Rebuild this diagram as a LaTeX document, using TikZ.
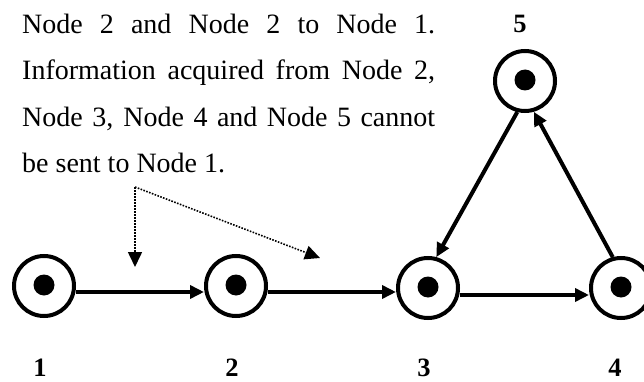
\documentclass[tikz,border=0pt]{standalone}
\usepackage{fontspec}
\setmainfont{Liberation Serif}
\usetikzlibrary{arrows.meta}
\begin{document}
\begin{tikzpicture}[x=1pt,y=-1pt,
  vertex/.style={circle,draw,line width=4pt,minimum size=60pt,inner sep=0pt},
  dotmark/.style={fill=black},
  edge/.style={line width=4pt,-{Triangle[length=14pt,width=13pt]}},
  hint/.style={line width=1.6pt,dash pattern=on 1.6pt off 1.4pt,-{Triangle[length=15pt,width=14pt]}},
  numlabel/.style={anchor=base,inner sep=0pt,font=\fontsize{26.5}{26.5}\selectfont\bfseries}]
\useasboundingbox (0,0) rectangle (644,382);
% text
\node[anchor=base west,inner sep=0pt,text width=413pt,align=justify,
  font=\fontsize{28}{46.5}\selectfont] (txt) at (22,33.5)
  {\hyphenpenalty=10000 Node 2 and Node 2 to Node 1.\linebreak Information acquired from Node 2,\linebreak Node 3, Node 4 and Node 5 cannot\linebreak be sent to Node 1.};
% vertices
\node[vertex] (n1) at (44,286) {};
\node[vertex] (n2) at (236,286) {};
\node[vertex] (n3) at (428,288) {};
\node[vertex] (n4) at (621,288) {};
\node[vertex] (n5) at (525,81) {};
\foreach \n in {n1,n2,n3,n4,n5} \fill[dotmark] (\n.center) ++(0,-1) circle[radius=10.5pt];
% labels
\node[numlabel] (l1) at (40,376) {1};
\node[numlabel] (l2) at (232,376) {2};
\node[numlabel] (l3) at (424,376) {3};
\node[numlabel] (l4) at (615,376) {4};
\node[numlabel] (l5) at (520,33) {5};
% edges
\draw[edge] ([yshift=-6pt]n1.east) -- ([yshift=-6pt]n2.west);
\draw[edge] ([yshift=-6pt]n2.east) -- ([yshift=-4pt]n3.west);
\draw[edge] ([yshift=-7pt]n3.east) -- ([yshift=-7pt]n4.west);
\draw[edge] (n5.-104) -- (n3.75);
\draw[edge] (n4.105) -- (n5.-74);
% dotted hints
\coordinate (corner) at (135,187);
\coordinate (t1) at (135,267);
\coordinate (t2) at (320,258);
\draw[hint] (corner) -- (t1);
\draw[hint] (corner) -- (t2);
\end{tikzpicture}
\end{document}
